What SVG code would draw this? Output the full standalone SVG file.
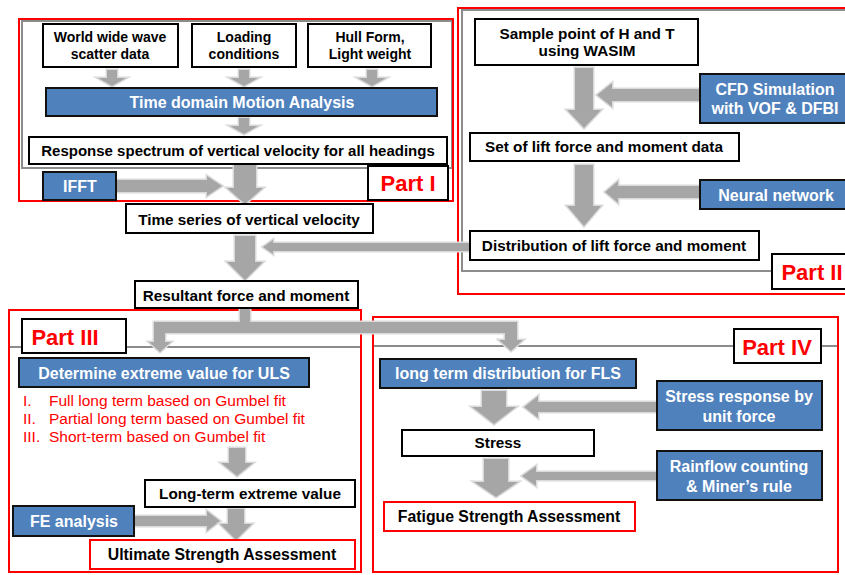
<svg xmlns="http://www.w3.org/2000/svg" width="845" height="575" viewBox="0 0 845 575">
<style>
.bg{fill:#ffffff}
.red{fill:none;stroke:#ff0000;stroke-width:2}
.gray{fill:none;stroke:#8c8c8c;stroke-width:2}
.box{fill:#ffffff;stroke:#000000;stroke-width:2}
.rbox{fill:#ffffff;stroke:#ff0000;stroke-width:2}
.blue{fill:#4f81bd;stroke:#111111;stroke-width:2}
.arr{fill:#a6a6a6;stroke:#dadada;stroke-width:3;paint-order:stroke fill;stroke-linejoin:miter}
.t{font-family:"Liberation Sans",Arial,sans-serif;font-weight:bold;font-size:15.3px;fill:#000000;text-anchor:middle}
.s14{font-size:14px}
.s16{font-size:15.8px}
.w{font-family:"Liberation Sans",Arial,sans-serif;font-weight:bold;font-size:16px;fill:#ffffff;text-anchor:middle}
.p{font-family:"Liberation Sans",Arial,sans-serif;font-weight:bold;font-size:22px;fill:#ff0000;text-anchor:middle}
.l{font-family:"Liberation Sans",Arial,sans-serif;font-size:15.5px;fill:#ff0000}
</style>
<rect class="bg" x="0" y="0" width="845" height="575"/>

<g id="frames">
  <rect class="gray" x="22" y="21" width="430" height="147"/>
  <rect class="red" x="19" y="19" width="434" height="182"/>
  <rect class="gray" x="462" y="10" width="390" height="261"/>
  <rect class="red" x="458" y="8" width="395" height="286"/>
  <line class="gray" x1="9" y1="347" x2="361" y2="347"/>
  <rect class="red" x="9" y="310" width="352" height="262"/>
  <line class="gray" x1="373" y1="346" x2="838" y2="346"/>
  <rect class="red" x="373" y="317" width="465" height="255"/>
</g>

<g id="connectors">
  <polygon class="arr" points="107,70 117,70 117,78 126,78 112,86 98,78 107,78"/>
  <polygon class="arr" points="239,70 249,70 249,78 258,78 244,86 230,78 239,78"/>
  <polygon class="arr" points="367,70 377,70 377,78 386,78 372,86 358,78 367,78"/>
  <polygon class="arr" points="239,118 249,118 249,126 258,126 244,134 230,126 239,126"/>
  <polygon class="arr" points="234,165 256,165 256,188 263,188 245,204 227,188 234,188"/>
  <polygon class="arr" points="117,180 207,180 207,176 222,186 207,196 207,192 117,192"/>
  <polygon class="arr" points="235,236 255,236 255,262 263,262 245,280 227,262 235,262"/>
  <polygon class="arr" points="470,243 273,243 273,240 263,247 273,254 273,251 470,251"/>
  <polygon class="arr" points="240,309 250,309 250,322 517,322 517,340 523,340 511,351 499,340 505,340 505,333 165,333 165,342 171,342 160,352 149,342 154,342 154,322 240,322"/>
  <polygon class="arr" points="575,68 593,68 593,110 601,110 584,128 567,110 575,110"/>
  <polygon class="arr" points="700,89 612,89 612,83 597,95 612,107 612,101 700,101"/>
  <polygon class="arr" points="575,165 593,165 593,206 601,206 584,226 567,206 575,206"/>
  <polygon class="arr" points="700,186 618,186 618,181 605,192 618,203 618,198 700,198"/>
  <polygon class="arr" points="229,448 245,448 245,463 253,463 237,476 221,463 229,463"/>
  <polygon class="arr" points="135,516 207,516 207,511 220,521 207,531 207,526 135,526"/>
  <polygon class="arr" points="228,509 244,509 244,524 252,524 236,540 220,524 228,524"/>
  <polygon class="arr" points="482,391 506,391 506,407 516,407 494,424 472,407 482,407"/>
  <polygon class="arr" points="657,402 538,402 538,396 524,407 538,418 538,412 657,412"/>
  <polygon class="arr" points="484,459 508,459 508,482 518,482 496,497 474,482 484,482"/>
  <polygon class="arr" points="657,472 536,472 536,466 522,476 536,486 536,480 657,480"/>
</g>

<g id="n-wave"><rect class="box" x="43" y="24" width="135" height="43"/><text class="t s14" x="110" y="42">World wide wave</text><text class="t s14" x="110" y="59">scatter data</text></g>
<g id="n-loading"><rect class="box" x="192" y="24" width="104" height="43"/><text class="t s14" x="244" y="42">Loading</text><text class="t s14" x="244" y="59">conditions</text></g>
<g id="n-hull"><rect class="box" x="308" y="24" width="123" height="43"/><text class="t s14" x="370" y="42">Hull Form,</text><text class="t s14" x="370" y="59">Light weight</text></g>
<g id="n-tdma"><rect class="blue" x="46" y="88" width="391" height="28"/><text class="w" x="242" y="108">Time domain Motion Analysis</text></g>
<g id="n-resp"><rect class="box" x="29" y="137" width="418" height="27"/><text class="t" x="238" y="156" style="font-size:15px">Response spectrum of vertical velocity for all headings</text></g>
<g id="n-ifft"><rect class="blue" x="43" y="172" width="73" height="28"/><text class="w" x="80" y="192">IFFT</text></g>
<g id="part1"><rect class="box" x="368" y="166" width="80" height="34"/><text class="p" x="408" y="191">Part I</text></g>
<g id="n-ts"><rect class="box" x="126" y="204" width="247" height="29"/><text class="t" x="249" y="225">Time series of vertical velocity</text></g>
<g id="n-res"><rect class="box" x="135" y="281" width="223" height="27"/><text class="t" x="246" y="301">Resultant force and moment</text></g>

<g id="n-sample"><rect class="box" x="475" y="19" width="223" height="46"/><text class="t" x="587" y="39">Sample point of H and T</text><text class="t" x="587" y="56">using WASIM</text></g>
<g id="n-cfd"><rect class="blue" x="700" y="74" width="150" height="49"/><text class="w" x="775" y="95">CFD Simulation</text><text class="w" x="775" y="114">with VOF &amp; DFBI</text></g>
<g id="n-set"><rect class="box" x="470" y="133" width="269" height="28"/><text class="t" x="604" y="152">Set of lift force and moment data</text></g>
<g id="n-nn"><rect class="blue" x="700" y="180" width="150" height="29"/><text class="w" x="776" y="201">Neural network</text></g>
<g id="n-dist"><rect class="box" x="470" y="231" width="289" height="29"/><text class="t" x="614" y="251">Distribution of lift force and moment</text></g>
<g id="part2"><rect class="box" x="772" y="254" width="80" height="35"/><text class="p" x="812" y="280">Part II</text></g>

<g id="part3"><rect class="box" x="22" y="319" width="104" height="34"/><text class="p" x="65" y="345">Part III</text></g>
<g id="n-det"><rect class="blue" x="19" y="358" width="290" height="29"/><text class="w" x="164" y="379">Determine extreme value for ULS</text></g>
<g id="n-list">
  <text class="l" x="23" y="406">I.</text><text class="l" x="49" y="406">Full long term based on Gumbel fit</text>
  <text class="l" x="23" y="424">II.</text><text class="l" x="49" y="424">Partial long term based on Gumbel fit</text>
  <text class="l" x="23" y="442">III.</text><text class="l" x="49" y="442">Short-term based on Gumbel fit</text>
</g>
<g id="n-lt"><rect class="box" x="145" y="480" width="210" height="27"/><text class="t" x="250" y="499">Long-term extreme value</text></g>
<g id="n-fe"><rect class="blue" x="13" y="506" width="121" height="30"/><text class="w" x="74" y="527">FE analysis</text></g>
<g id="n-usa"><rect class="rbox" x="90" y="540" width="265" height="29"/><text class="t s16" x="222" y="560">Ultimate Strength Assessment</text></g>

<g id="part4"><rect class="box" x="734" y="329" width="87" height="34"/><text class="p" x="777" y="355">Part IV</text></g>
<g id="n-fls"><rect class="blue" x="380" y="359" width="256" height="29"/><text class="w" x="508" y="379">long term distribution for FLS</text></g>
<g id="n-sr"><rect class="blue" x="657" y="381" width="165" height="49"/><text class="w" x="739" y="402">Stress response by</text><text class="w" x="739" y="422">unit force</text></g>
<g id="n-stress"><rect class="box" x="402" y="430" width="192" height="26"/><text class="t" x="498" y="448">Stress</text></g>
<g id="n-rf"><rect class="blue" x="657" y="451" width="165" height="49"/><text class="w" x="739" y="472">Rainflow counting</text><text class="w" x="739" y="492">&amp; Miner’s rule</text></g>
<g id="n-fsa"><rect class="rbox" x="384" y="502" width="251" height="29"/><text class="t s16" x="509" y="522">Fatigue Strength Assessment</text></g>
</svg>
